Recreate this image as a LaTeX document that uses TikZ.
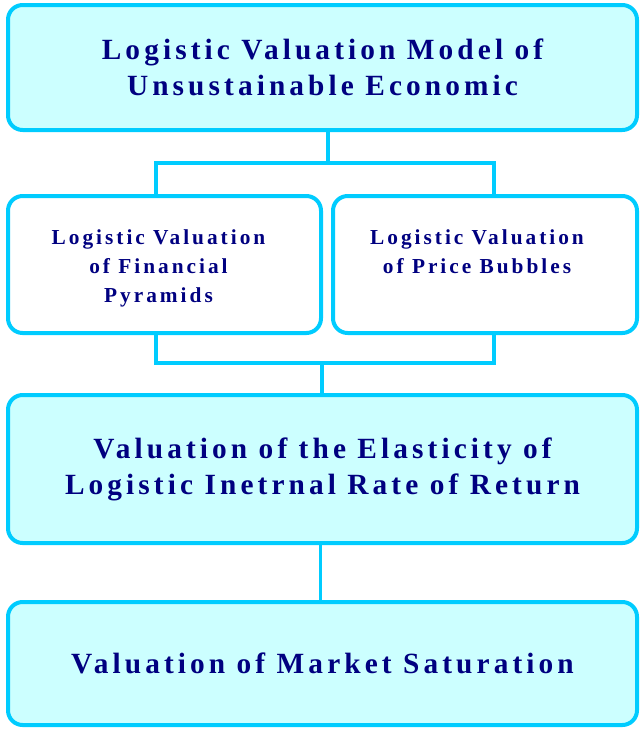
\documentclass[tikz,border=0pt]{standalone}
\usepackage{fontspec}
\newfontfamily\boxfont{Liberation Serif}[LetterSpace=14]
\usetikzlibrary{positioning, calc}
\definecolor{boxedge}{RGB}{0,204,255}
\definecolor{boxfill}{RGB}{204,255,255}
\definecolor{boxtext}{RGB}{0,0,128}
\tikzset{
  every node/.style={outer sep=0pt},
  box/.style={draw=boxedge, line width=3pt, rounded corners=11pt,
    align=center, text=boxtext, inner sep=0pt},
  mainbox/.style={box, fill=boxfill, minimum width=471.75pt,
    font=\boxfont\bfseries\fontsize{22}{27}\selectfont},
  subbox/.style={box, fill=white, minimum height=102.75pt},
  subtext/.style={align=center, text=boxtext, inner sep=0pt,
    font=\boxfont\bfseries\fontsize{16}{22}\selectfont},
  link/.style={draw=boxedge, line width=2.3pt},
}

\begin{document}
\begin{tikzpicture}[x=0.75pt, y=-0.75pt]
  \useasboundingbox (0,0) rectangle (641,729);

  % boxes
  \node[mainbox, minimum height=93.75pt] (title) at (322.5,67.5)
    {Logistic Valuation Model of\\Unsustainable Economic};
  \node[subbox, minimum width=234.75pt, below=49.5pt of title.south west, anchor=north west] (pyramids) {};
  \node[subbox, minimum width=228pt, right=9pt of pyramids] (bubbles) {};
  \node[mainbox, minimum height=111pt, below=46.5pt of pyramids.south west, anchor=north west] (rate)
    {Valuation of the Elasticity of\\Logistic Inetrnal Rate of Return};
  \node[mainbox, minimum height=92.25pt, below=44.25pt of rate] (saturation)
    {Valuation of Market Saturation};

  % texts of the two middle boxes, set from the top
  \node[subtext, below=25pt of pyramids.north, xshift=-4.5pt] (pyramidstext)
    {Logistic Valuation\\of Financial\\Pyramids};
  \node[subtext, below=25pt of bubbles.north, xshift=-6pt] (bubblestext)
    {Logistic Valuation\\of Price Bubbles};

  % connectors
  \coordinate (upperbus) at ($(title.south)+(5.5,33)$);
  \coordinate (lowerbus) at ($(rate.north)+(-0.5,-32)$);
  \draw[link] (title.south -| upperbus) -- (upperbus);
  \draw[link] ($(pyramids.north)+(-8.5,0)$) |- (upperbus) -| ($(bubbles.north)+(9,0)$);
  \draw[link] ($(pyramids.south)+(-8.5,0)$) |- (lowerbus) -| ($(bubbles.south)+(9,0)$);
  \draw[link] (lowerbus) -- (rate.north -| lowerbus);
  \draw[link] ($(rate.south)+(-2,0)$) -- ($(saturation.north)+(-2,0)$);
\end{tikzpicture}
\end{document}
